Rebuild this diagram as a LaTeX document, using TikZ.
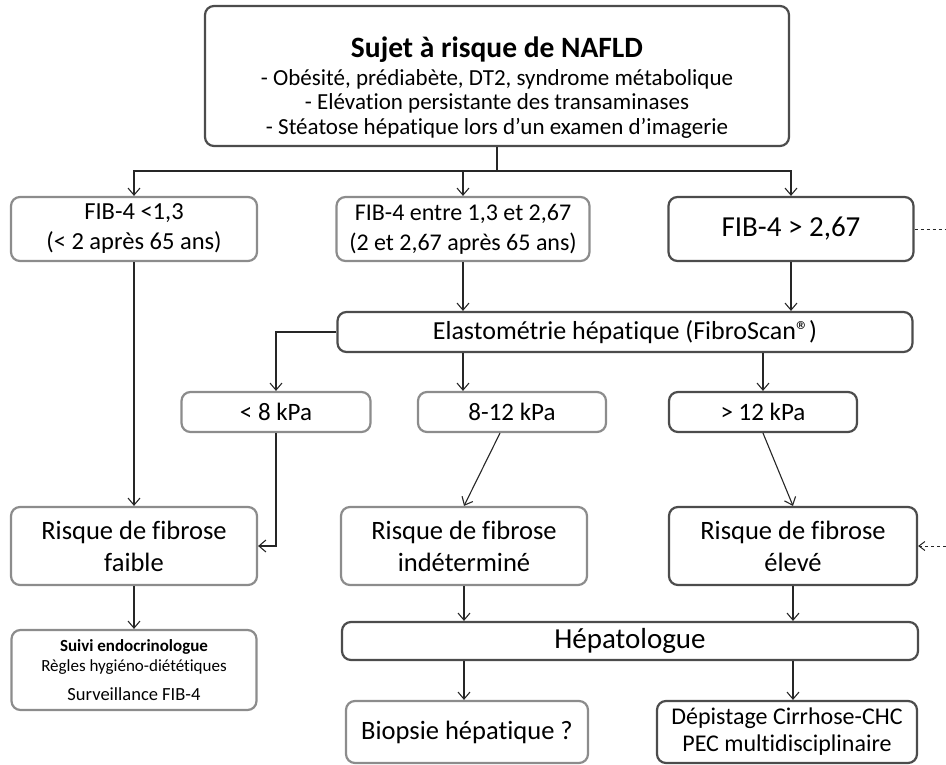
\documentclass[tikz,border=0pt]{standalone}
\usepackage{fontspec}
\setmainfont{Carlito}[Ligatures=CommonOff]
\usetikzlibrary{arrows.meta, positioning}

\begin{document}
\begin{tikzpicture}[x=1pt, y=-1pt,
      lbox/.style={draw=black!45, line width=2.2pt, rounded corners=9pt,
                   align=center, inner sep=2pt, fill=white},
      dbox/.style={draw=black!70, line width=2.2pt, rounded corners=9pt,
                   align=center, inner sep=2pt, fill=white},
      arr/.style={-{Straight Barb[length=7pt, width=12pt]}, line width=1.1pt, black!85},
      darr/.style={dashed, line width=1pt, black!85}
    ]
    \useasboundingbox (0,0) rectangle (946,764);

    %% ---- fixed coordinate layout ----
    %% top
    \node[dbox, minimum width=584pt, minimum height=140pt,
          font=\fontsize{23}{24.5}\selectfont] at (497,76) (top)
          {\rule{0pt}{44pt}{\fontsize{29.5}{32}\selectfont\bfseries Sujet à risque de NAFLD}\\[3pt]
           - Obésité, prédiabète, DT2, syndrome métabolique\\
           - Elévation persistante des transaminases\\
           - Stéatose hépatique lors d’un examen d’imagerie};

    %% FIB-4 row
    \node[lbox, minimum width=246pt, minimum height=64pt,
          font=\fontsize{24.5}{30}\selectfont] at (134,229) (fiblow)
          {FIB-4 <1,3\\(< 2 après 65 ans)};
    \node[lbox, minimum width=253pt, minimum height=64pt,
          font=\fontsize{24}{30}\selectfont] at (463,229) (fibmid)
          {FIB-4 entre 1,3 et 2,67\\(2 et 2,67 après 65 ans)};
    \node[dbox, minimum width=245pt, minimum height=64pt,
          font=\fontsize{29}{30}\selectfont] at (791,229) (fibhigh)
          {FIB-4 > 2,67};

    %% FibroScan
    \node[dbox, minimum width=575pt, minimum height=40pt,
          font=\fontsize{26}{28}\selectfont] at (625,332) (elasto)
          {Elastométrie hépatique (FibroScan®)};

    %% kPa row
    \node[lbox, minimum width=189pt, minimum height=40pt,
          font=\fontsize{25}{28}\selectfont] at (276,412) (kpalow) {< 8 kPa};
    \node[lbox, minimum width=188pt, minimum height=40pt,
          font=\fontsize{25}{28}\selectfont] at (512,412) (kpamid) {8-12 kPa};
    \node[dbox, minimum width=188pt, minimum height=40pt,
          font=\fontsize{25}{28}\selectfont] at (763,412) (kpahigh) {> 12 kPa};

    %% risk row
    \node[lbox, minimum width=246pt, minimum height=78pt,
          font=\fontsize{26.5}{32}\selectfont] at (134,546) (riskfaible)
          {Risque de fibrose\\faible};
    \node[lbox, minimum width=246pt, minimum height=78pt,
          font=\fontsize{26.5}{32}\selectfont] at (464,546) (riskindet)
          {Risque de fibrose\\indéterminé};
    \node[dbox, minimum width=248pt, minimum height=78pt,
          font=\fontsize{26.5}{32}\selectfont] at (793,546) (riskeleve)
          {Risque de fibrose\\élevé};

    %% follow-up
    \node[lbox, minimum width=245pt, minimum height=80pt,
          font=\fontsize{17}{20}\selectfont] at (134,670) (suivi)
          {{\fontsize{17}{20}\selectfont\bfseries Suivi endocrinologue}\\
           Règles hygiéno-diététiques\\[9pt]
           {\fontsize{18.5}{20}\selectfont Surveillance FIB-4}};
    \node[dbox, minimum width=576pt, minimum height=38pt,
          font=\fontsize{29}{30}\selectfont] at (630,641) (hepato) {Hépatologue};
    \node[lbox, minimum width=242pt, minimum height=62pt,
          font=\fontsize{26.5}{28}\selectfont] at (467,732) (biopsie)
          {Biopsie hépatique ?};
    \node[dbox, minimum width=260pt, minimum height=62pt,
          font=\fontsize{24}{27}\selectfont] at (787,732) (depist)
          {Dépistage Cirrhose-CHC\\PEC multidisciplinaire};

    \coordinate (split) at (497,171);
    \coordinate (outA) at (946,229);
    \coordinate (outB) at (946,546);

    %% ---- edges ----
    \draw[line width=1.1pt, black!85] (top.south) -- (split);
    \draw[arr] (split) -| (fiblow.north);
    \draw[arr] (split) -| (fibmid.north);
    \draw[arr] (split) -| (fibhigh.north);
    \draw[darr] (fibhigh.east) -- (outA);

    \draw[arr] (fiblow.south) -- (riskfaible.north);
    \draw[arr] (fibmid.south) -- (fibmid.south |- elasto.north);
    \draw[arr] (fibhigh.south) -- (fibhigh.south |- elasto.north);

    %% FibroScan → kPa boxes
    \draw[arr] (elasto.west) -| (kpalow.north);
    \draw[arr] (fibmid.south |- elasto.south) -- (fibmid.south |- kpamid.north);
    \draw[arr] (kpahigh.north |- elasto.south) -- (kpahigh.north);

    %% kPa → risk
    \draw[arr] (kpalow.south) |- (riskfaible.east);
    \draw[arr] ([xshift=-12pt]kpamid.south) -- (riskindet.north);
    \draw[arr] (kpahigh.south) -- (riskeleve.north);
    \draw[darr, -{Straight Barb[length=6pt, width=9pt]}] (outB) -- (riskeleve.east);

    %% risk → follow-up
    \draw[arr] (riskfaible.south) -- (suivi.north);
    \draw[arr] (riskindet.south) -- (riskindet.south |- hepato.north);
    \draw[arr] (riskeleve.south) -- (riskeleve.south |- hepato.north);
    \draw[arr] (riskindet.south |- hepato.south) -- (riskindet.south |- biopsie.north);
    \draw[arr] (riskeleve.south |- hepato.south) -- (riskeleve.south |- depist.north);

  \end{tikzpicture}
\end{document}
